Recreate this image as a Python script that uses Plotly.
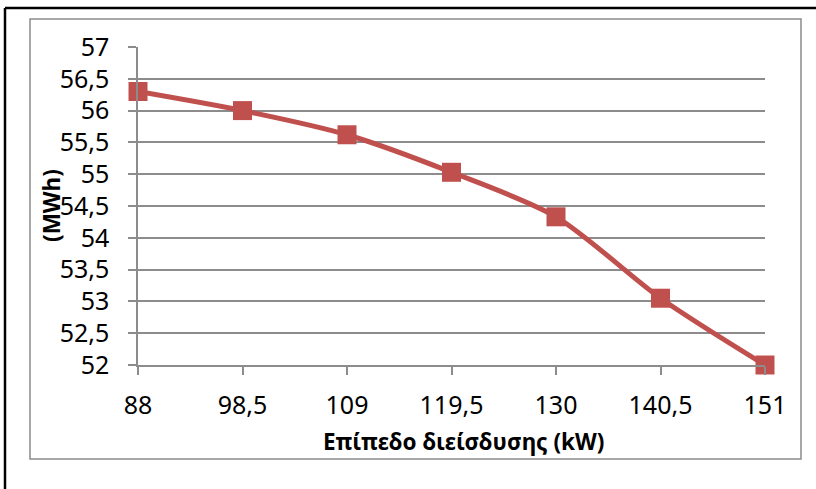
import plotly.graph_objects as go

x_vals = [88, 98.5, 109, 119.5, 130, 140.5, 151]
x_labels = ["88", "98,5", "109", "119,5", "130", "140,5", "151"]
y_vals = [56.3, 56.0, 55.62, 55.03, 54.33, 53.05, 52.0]
y_ticks = [52, 52.5, 53, 53.5, 54, 54.5, 55, 55.5, 56, 56.5, 57]
y_labels = ["52", "52,5", "53", "53,5", "54", "54,5", "55", "55,5", "56", "56,5", "57"]
x_title = "Επίπεδο διείσδυσης (kW)"
y_title = "(MWh)"

W, H = 816, 489
L, R, T, B = 138, 765, 47, 365
pw, ph = R - L, B - T

def px(x):
    return (x - L) / pw

def py(y):
    return (B - y) / ph

RED = "#C0504D"
GRID = "#8C8C8C"
FONT = "Noto Sans"

fig = go.Figure()
fig.add_trace(go.Scatter(
    x=x_vals, y=y_vals, mode="lines+markers",
    line=dict(color=RED, width=5, shape="spline", smoothing=0.8),
    marker=dict(symbol="square", size=19, color=RED),
    cliponaxis=False, showlegend=False,
))

fig.update_layout(
    width=W, height=H,
    margin=dict(l=L, r=W - R, t=T, b=H - B),
    paper_bgcolor="white", plot_bgcolor="white",
    font=dict(family=FONT, size=25, color="black"),
    xaxis=dict(
        range=[88, 151], tickvals=x_vals, ticktext=x_labels,
        showgrid=False, zeroline=False,
        showline=True, linecolor=GRID, linewidth=1.5,
        ticks="outside", ticklen=8, tickcolor=GRID, tickwidth=1.5,
        ticklabelstandoff=9,
    ),
    yaxis=dict(
        range=[52, 57], tickvals=y_ticks, ticktext=y_labels,
        showgrid=True, gridcolor=GRID, gridwidth=1.5, zeroline=False,
        showline=True, linecolor=GRID, linewidth=1.5,
        ticks="outside", ticklen=8, tickcolor=GRID, tickwidth=1.5,
        ticklabelstandoff=14,
    ),
    shapes=[
        dict(type="rect", xref="paper", yref="paper",
             x0=px(30), x1=px(801), y0=py(459), y1=py(19),
             line=dict(color="#8C8C8C", width=1.5), layer="below"),
        dict(type="line", xref="paper", yref="paper",
             x0=px(5), x1=px(5), y0=py(8), y1=py(495),
             line=dict(color="black", width=2.5)),
        dict(type="line", xref="paper", yref="paper",
             x0=px(5), x1=px(820), y0=py(8), y1=py(8),
             line=dict(color="black", width=2.5)),
    ],
    annotations=[
        dict(text="<b>" + x_title + "</b>", xref="paper", yref="paper",
             x=px(463), y=py(441), xanchor="center", yanchor="middle",
             showarrow=False, font=dict(family=FONT, size=22.5, color="black")),
        dict(text="<b>" + y_title + "</b>", xref="paper", yref="paper",
             x=px(51), y=py(206), xanchor="center", yanchor="middle",
             textangle=-90, showarrow=False,
             font=dict(family=FONT, size=22.5, color="black")),
    ],
)

fig.write_html("out.html", config={"displayModeBar": False},
               post_script="document.body.style.margin='0';")
